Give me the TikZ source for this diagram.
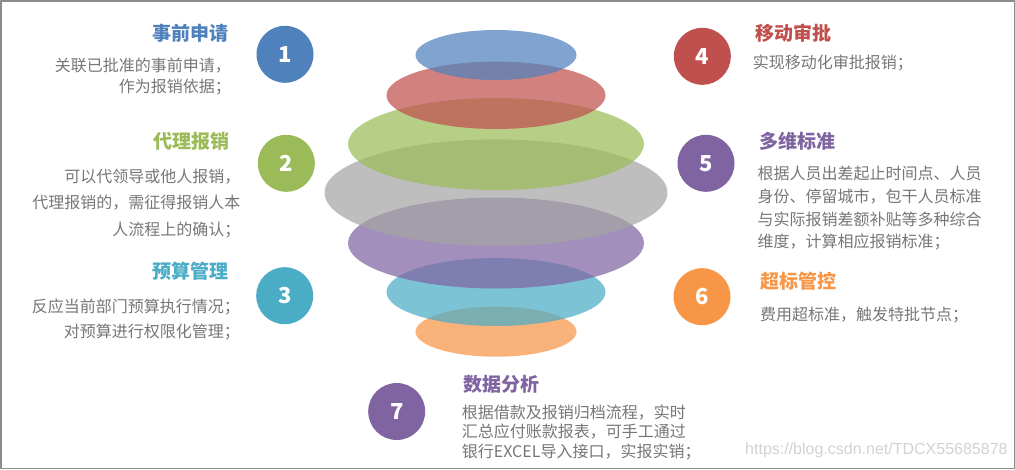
\documentclass[tikz,border=0pt]{standalone}
\usepackage{fontspec}
\setmainfont{Noto Sans CJK SC}
\setsansfont{Liberation Sans}
\usetikzlibrary{positioning}
\definecolor{cBlue}{HTML}{4F81BD}
\definecolor{cRed}{HTML}{C0504D}
\definecolor{cGreen}{HTML}{9BBB59}
\definecolor{cGray}{HTML}{A5A5A5}
\definecolor{cPurple}{HTML}{8064A2}
\definecolor{cCyan}{HTML}{4BACC6}
\definecolor{cOrange}{HTML}{F79646}
\definecolor{txtgray}{HTML}{767676}
\definecolor{frame}{HTML}{8C8C8C}
\begin{document}
\begin{tikzpicture}[x=1pt, y=-1pt, line join=round, line cap=round,
	ball/.style={circle, fill=#1, minimum size=57pt, inner sep=0pt, text=white, font=\fontsize{22}{22}\selectfont\bfseries},
	disc/.style={fill=#1, fill opacity=0.72},
	title/.style={text=#1, inner sep=0pt, font=\fontsize{19}{19}\selectfont\bfseries},
	body/.style={text=txtgray, inner sep=0pt, font=\fontsize{16}{#1}\selectfont}]
	\useasboundingbox (0,0) rectangle (1015,469);
	\draw[frame, line width=1.5pt] (0.75,0.75) rectangle (1014.25,468.25);
	% ellipses, lowest first
	\foreach \c/\yc/\rx/\ry in {cOrange/331.7/80.5/25, cCyan/292/109.5/34, cPurple/243/148/45.5,
		cGray/192.7/171.5/53.3, cGreen/144/148/46, cRed/95.3/109.5/33.7, cBlue/55/80.5/25}
		\fill[disc=\c] (496,\yc) ellipse [x radius=\rx, y radius=\ry];
	% numbered balls
	\node[ball=cBlue] (n1) at (285,54.3) {1};
	\node[ball=cGreen] (n2) at (286.3,163.3) {2};
	\node[ball=cCyan] (n3) at (284.7,295.7) {3};
	\node[ball=cRed] (n4) at (702.3,56.3) {4};
	\node[ball=cPurple] (n5) at (706,163.3) {5};
	\node[ball=cOrange] (n6) at (702,296.7) {6};
	\node[ball=cPurple] (n7) at (396.7,411.5) {7};
	% left side
	\node[title=cBlue, anchor=base east] (t1) at (229,40) {事前申请};
	\node[body=21, align=right, anchor=north east] (b1) at (231,57.6) {关联已批准的事前申请，\\作为报销依据；};
	\node[title=cGreen, anchor=base east] (t2) at (230,148.7) {代理报销};
	\node[body=26.7, align=right, anchor=north east] (b2) at (240.5,168.6) {可以代领导或他人报销，\\代理报销的，需征得报销人本\\人流程上的确认；};
	\node[title=cCyan, anchor=base east] (t3) at (229,278.7) {预算管理};
	\node[body=24.7, align=right, anchor=north east] (b3) at (240,298.6) {反应当前部门预算执行情况；\\对预算进行权限化管理；};
	% right side
	\node[title=cRed, anchor=base west] (t4) at (755,40.3) {移动审批};
	\node[body=20, align=left, anchor=north west] (b4) at (752.7,54.3) {实现移动化审批报销；};
	\node[title=cPurple, anchor=base west] (t5) at (759,148.7) {多维标准};
	\node[body=22.8, align=left, anchor=north west] (b5) at (757.3,165.9) {根据人员出差起止时间点、人员\\身份、停留城市，包干人员标准\\与实际报销差额补贴等多种综合\\维度，计算相应报销标准；};
	\node[title=cOrange, anchor=base west] (t6) at (760,288.7) {超标管控};
	\node[body=20, align=left, anchor=north west] (b6) at (760,306.9) {费用超标准，触发特批节点；};
	\node[title=cPurple, anchor=base west] (t7) at (463.3,391) {数据分析};
	\node[body=19.5, align=left, anchor=north west] (b7) at (461.7,404.3) {根据借款及报销归档流程，实时\\汇总应付账款报表，可手工通过\\银行EXCEL导入接口，实报实销；};
	\node[text=gray!35, inner sep=0pt, anchor=west, font=\sffamily\fontsize{16}{16}\selectfont] (wm) at (745,450) {https://blog.csdn.net/TDCX55685878};
\end{tikzpicture}
\end{document}
